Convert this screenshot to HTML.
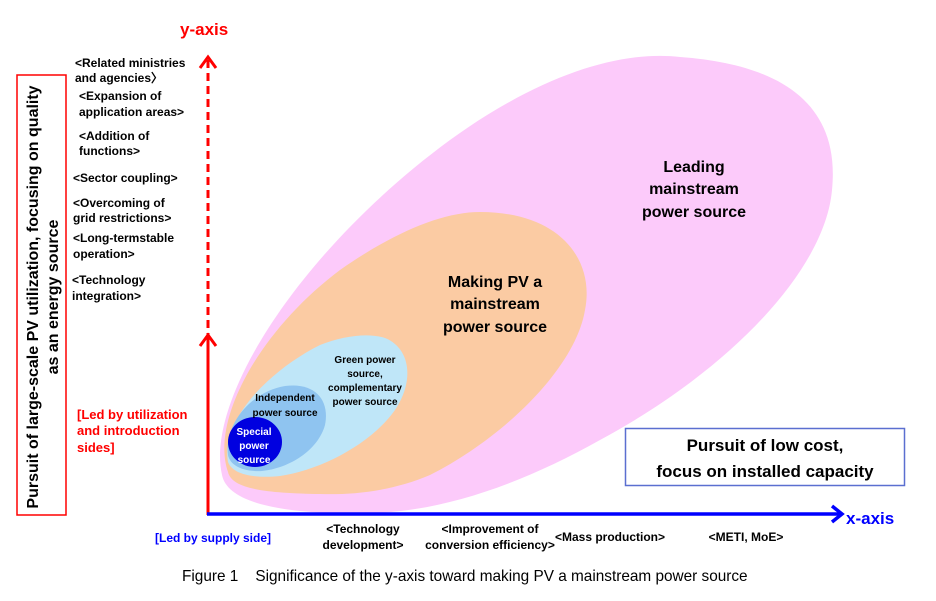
<!DOCTYPE html>
<html><head><meta charset="utf-8"><style>
html,body{margin:0;padding:0;background:#fff;}
svg{display:block;font-family:"Liberation Sans",Arial,sans-serif;}
.b{font-weight:bold;}
</style></head><body>
<svg width="936" height="601" viewBox="0 0 936 601" xmlns="http://www.w3.org/2000/svg">
<path d="M222,475 C205,400 300,250 450,140 C540,75 620,50 680,57 C790,65 840,110 832,190 C825,270 730,370 600,440 C520,485 440,512 370,513 C290,515 228,505 222,475 Z" fill="#fccafa"/>
<path d="M228,472 C210,420 260,330 340,270 C390,235 440,212 480,212 C560,212 595,260 585,310 C575,370 500,440 430,475 C390,492 350,495 320,494 C270,493 232,490 228,472 Z" fill="#fbcba3"/>
<path d="M228,462 C220,420 270,370 320,345 C345,335 370,333 385,338 C410,348 415,380 395,410 C370,445 320,470 280,476 C250,479 232,473 228,462 Z" fill="#bfe6f8"/>
<path d="M228,455 C224,425 250,392 285,386 C315,382 330,400 325,425 C318,450 290,468 262,471 C242,472 230,465 228,455 Z" fill="#8fc4f0"/>
<ellipse cx="255" cy="442" rx="27" ry="25" fill="#0000e0"/>

<line x1="208" y1="60" x2="208" y2="335" stroke="#f00" stroke-width="3" stroke-dasharray="8,5"/>
<polyline points="200,68 208,57 216,68" fill="none" stroke="#f00" stroke-width="3"/>
<line x1="208" y1="336" x2="208" y2="515" stroke="#f00" stroke-width="3"/>
<polyline points="200,346 208,335 216,346" fill="none" stroke="#f00" stroke-width="3"/>
<line x1="207" y1="514" x2="840" y2="514" stroke="#0000ff" stroke-width="3.5"/>
<polyline points="832,506 842,514 832,522" fill="none" stroke="#0000ff" stroke-width="3.5"/>

<text x="180" y="35" fill="#f00" class="b" font-size="17">y-axis</text>
<text x="846" y="524" fill="#0000ff" class="b" font-size="17">x-axis</text>

<rect x="17" y="75" width="49" height="440" fill="none" stroke="#f00" stroke-width="1.5"/>
<text transform="translate(38,297) rotate(-90)" text-anchor="middle" class="b" font-size="16">Pursuit of large-scale PV utilization, focusing on quality</text>
<text transform="translate(58,297) rotate(-90)" text-anchor="middle" class="b" font-size="16">as an energy source</text>

<g class="b" font-size="12" fill="#000">
<text x="75" y="67">&lt;Related ministries</text>
<text x="75" y="82">and agencies〉</text>
<text x="79" y="100">&lt;Expansion of</text>
<text x="79" y="116">application areas&gt;</text>
<text x="79" y="140">&lt;Addition of</text>
<text x="79" y="155">functions&gt;</text>
<text x="73" y="182">&lt;Sector coupling&gt;</text>
<text x="73" y="207">&lt;Overcoming of</text>
<text x="73" y="222">grid restrictions&gt;</text>
<text x="73" y="242">&lt;Long-termstable</text>
<text x="73" y="258">operation&gt;</text>
<text x="72" y="284">&lt;Technology</text>
<text x="72" y="300">integration&gt;</text>
</g>
<g class="b" font-size="13" fill="#f00">
<text x="77" y="419">[Led by utilization</text>
<text x="77" y="435">and introduction</text>
<text x="77" y="452">sides]</text>
</g>

<g class="b" text-anchor="middle">
<text x="694" y="172" font-size="16">Leading</text>
<text x="694" y="194" font-size="16">mainstream</text>
<text x="694" y="217" font-size="16">power source</text>
<text x="495" y="287" font-size="16">Making PV a</text>
<text x="495" y="309" font-size="16">mainstream</text>
<text x="495" y="332" font-size="16">power source</text>
<text x="365" y="363" font-size="10">Green power</text>
<text x="365" y="377" font-size="10">source,</text>
<text x="365" y="391" font-size="10">complementary</text>
<text x="365" y="405" font-size="10">power source</text>
<text x="285" y="401" font-size="10">Independent</text>
<text x="285" y="416" font-size="10">power source</text>
<text x="254" y="435" font-size="10" fill="#fff">Special</text>
<text x="254" y="449" font-size="10" fill="#fff">power</text>
<text x="254" y="463" font-size="10" fill="#fff">source</text>
</g>

<rect x="625.5" y="428.5" width="279" height="57" fill="#fff" stroke="#5b6fd0" stroke-width="1.5"/>
<g class="b" font-size="17" text-anchor="middle">
<text x="765" y="451">Pursuit of low cost,</text>
<text x="765" y="477">focus on installed capacity</text>
</g>

<text x="155" y="542" class="b" font-size="12" fill="#0000ff">[Led by supply side]</text>
<g class="b" font-size="12" text-anchor="middle">
<text x="363" y="533">&lt;Technology</text>
<text x="363" y="549">development&gt;</text>
<text x="490" y="533">&lt;Improvement of</text>
<text x="490" y="549">conversion efficiency&gt;</text>
<text x="610" y="541">&lt;Mass production&gt;</text>
<text x="746" y="541">&lt;METI, MoE&gt;</text>
</g>
<text x="182" y="581" font-size="16" transform="translate(182,0) scale(0.96,1) translate(-182,0)">Figure 1 &#160;&#160;&#160;Significance of the y-axis toward making PV a mainstream power source</text>
</svg>
</body></html>
